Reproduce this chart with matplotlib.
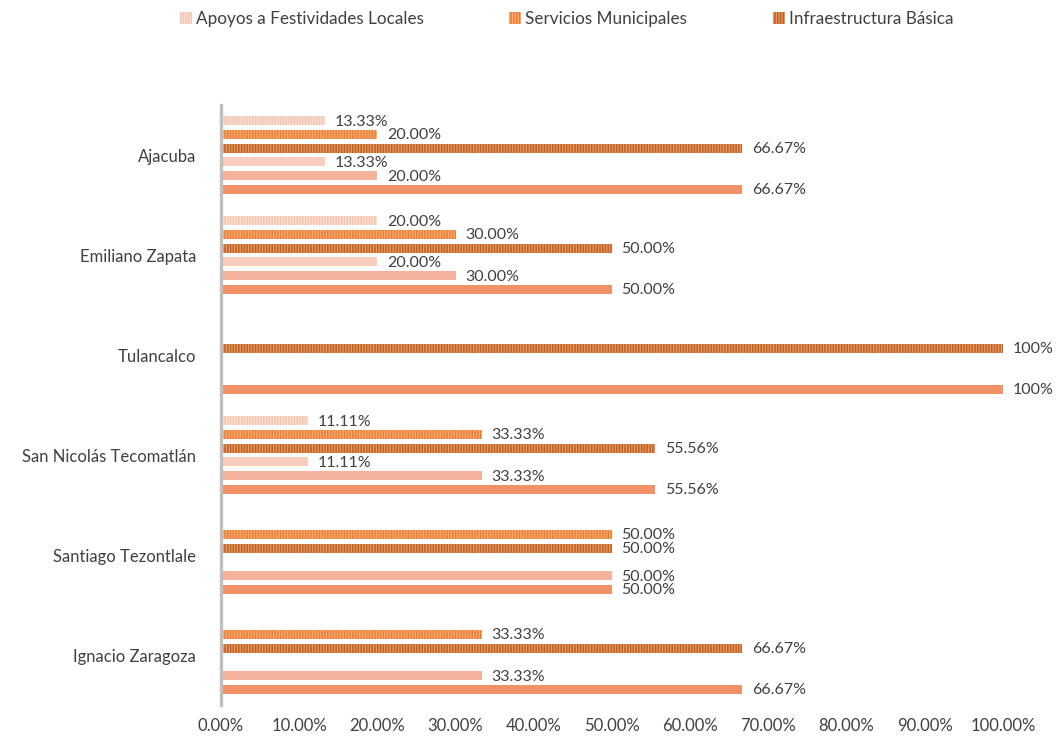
import numpy as np
import matplotlib.pyplot as plt

# Data (top to bottom as shown)
categories = ['Ajacuba', 'Emiliano Zapata', 'Tulancalco',
              'San Nicolás Tecomatlán', 'Santiago Tezontlale', 'Ignacio Zaragoza']

# patterned series (shown in legend)
apoyos_a = [13.33, 20.00, None, 11.11, None, None]
servicios_a = [20.00, 30.00, None, 33.33, 50.00, 33.33]
infra_a = [66.67, 50.00, 100.00, 55.56, 50.00, 66.67]

# solid series
apoyos_b = [13.33, 20.00, None, 11.11, None, None]
servicios_b = [20.00, 30.00, None, 33.33, 50.00, 33.33]
infra_b = [66.67, 50.00, 100.00, 55.56, 50.00, 66.67]

legend_names = ['Apoyos a Festividades Locales', 'Servicios Municipales', 'Infraestructura Básica']
x_ticks = [0, 10, 20, 30, 40, 50, 60, 70, 80, 90, 100]

plt.rcParams['font.family'] = ['Lato', 'DejaVu Sans']
plt.rcParams['hatch.linewidth'] = 0.9

text_color = '#404040'

series = [
    # values, face, stripe, hatch, label
    (apoyos_a, '#F5C3AF', '#FBE2D8', '||||||', legend_names[0]),
    (servicios_a, '#ED7D31', '#F6AE7A', '||||||', legend_names[1]),
    (infra_a, '#C4621F', '#E0996C', '||||||', legend_names[2]),
    (apoyos_b, '#F8CDBE', None, None, None),
    (servicios_b, '#F4B39A', None, None, None),
    (infra_b, '#F09168', None, None, None),
]

fig = plt.figure(figsize=(10.59, 7.38), dpi=100)
ax = fig.add_axes([0.2087, 0.0447, 0.9471 - 0.2087, 0.8577 - 0.0447])

y = np.arange(len(categories))
slot = 0.1375
bar_h = 0.092

for k, (vals, face, stripe, hatch, label) in enumerate(series):
    pos = y + (k - 2.5) * slot
    widths = [v if v is not None else 0 for v in vals]
    if hatch:
        ax.barh(pos, widths, height=bar_h, color=face, edgecolor=stripe,
                hatch=hatch, linewidth=0, label=label)
    else:
        ax.barh(pos, widths, height=bar_h, color=face, linewidth=0)
    for p, v in zip(pos, vals):
        if v is None:
            continue
        txt = '100%' if v == 100 else f'{v:.2f}%'
        ax.text(v + 1.2, p + 0.01, txt, va='center', ha='left',
                fontsize=11.5, color=text_color)

ax.set_ylim(len(categories) - 0.5, -0.5)
ax.set_xlim(0, 100)
ax.set_yticks(y)
ax.set_yticklabels(categories, fontsize=12, color=text_color)
ax.set_xticks(x_ticks)
ax.set_xticklabels([f'{t:.2f}%' for t in x_ticks], fontsize=12, color=text_color)
ax.tick_params(axis='both', length=0)
ax.tick_params(axis='x', pad=9)
ax.tick_params(axis='y', pad=18)

for s in ['top', 'right', 'bottom']:
    ax.spines[s].set_visible(False)
ax.spines['left'].set_color('#BFBFBF')
ax.spines['left'].set_linewidth(2.4)

fig.legend(loc='upper center', bbox_to_anchor=(0.535, 1.006), ncol=3, frameon=False,
           fontsize=12.3, handlelength=0.7, handleheight=0.7, handletextpad=0.25,
           columnspacing=5.0, labelcolor=text_color)

plt.savefig('out.png', dpi=100)
plt.close()
